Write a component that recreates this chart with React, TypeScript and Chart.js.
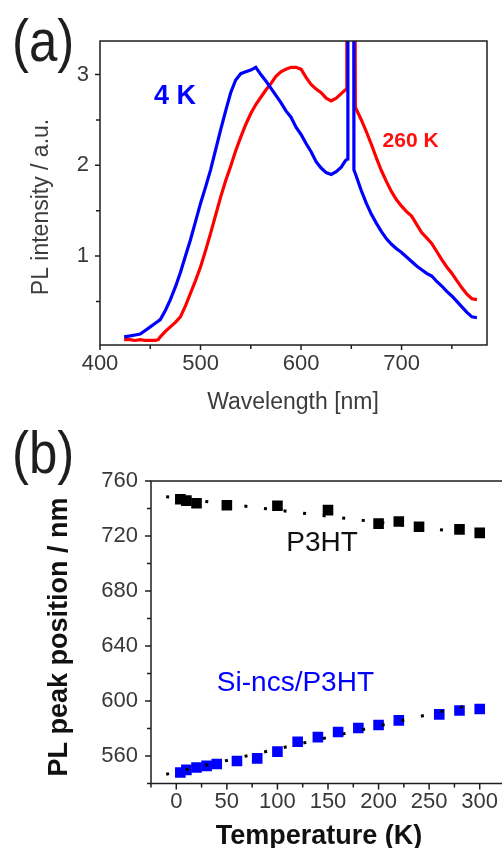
import React, { useEffect, useRef } from "react";
import { Chart, registerables } from "chart.js";

Chart.register(...registerables);

const FONT = "'Liberation Sans', Arial, Helvetica, sans-serif";

// ---------- Panel (a): PL spectra ----------
const wl4K = [424, 430, 435, 440, 445, 450, 455, 460, 465, 470, 475, 480, 485, 490, 495, 500, 505, 510, 515, 520, 525, 530, 535, 540, 545, 550, 555, 560, 565, 570, 575, 580, 585, 590, 595, 600, 605, 610, 615, 620, 625, 630, 635, 640, 644, 646.3, 646.6, 652.3, 652.6, 654, 660, 665, 670, 675, 680, 685, 690, 695, 700, 705, 710, 715, 720, 725, 730, 735, 740, 745, 750, 755, 760, 765, 770, 775];
const pl4K = [0.11, 0.12, 0.13, 0.14, 0.18, 0.22, 0.26, 0.3, 0.4, 0.52, 0.66, 0.82, 1.0, 1.18, 1.38, 1.58, 1.76, 1.95, 2.17, 2.39, 2.6, 2.8, 2.94, 3.01, 3.03, 3.05, 3.08, 3.0, 2.93, 2.85, 2.77, 2.69, 2.6, 2.53, 2.42, 2.34, 2.24, 2.15, 2.04, 1.97, 1.92, 1.9, 1.93, 1.98, 2.05, 2.07, 6.0, 6.0, 1.95, 1.91, 1.72, 1.58, 1.46, 1.36, 1.27, 1.19, 1.13, 1.08, 1.04, 0.99, 0.94, 0.89, 0.85, 0.81, 0.78, 0.72, 0.67, 0.61, 0.56, 0.5, 0.44, 0.38, 0.33, 0.32];

const wl260K = [424, 430, 435, 440, 445, 450, 455, 458, 460, 465, 470, 475, 480, 485, 490, 495, 500, 505, 510, 515, 520, 525, 530, 535, 540, 545, 550, 555, 560, 565, 570, 575, 580, 585, 590, 595, 600, 605, 610, 615, 620, 625, 630, 635, 640, 645, 645.6, 653.2, 654, 660, 665, 670, 675, 680, 685, 690, 695, 700, 705, 710, 715, 720, 725, 730, 735, 740, 745, 750, 755, 760, 765, 770, 775];
const pl260K = [0.08, 0.08, 0.07, 0.08, 0.07, 0.07, 0.07, 0.08, 0.11, 0.17, 0.22, 0.27, 0.33, 0.45, 0.59, 0.73, 0.88, 1.06, 1.25, 1.45, 1.65, 1.83, 1.99, 2.16, 2.31, 2.45, 2.57, 2.67, 2.75, 2.83, 2.9, 2.98, 3.03, 3.06, 3.08, 3.08, 3.06, 2.97, 2.89, 2.84, 2.8, 2.74, 2.71, 2.74, 2.79, 2.84, 6.0, 6.0, 2.64, 2.5, 2.37, 2.23, 2.08, 1.94, 1.82, 1.71, 1.62, 1.55, 1.49, 1.44, 1.35, 1.26, 1.2, 1.14, 1.05, 0.96, 0.88, 0.81, 0.73, 0.65, 0.58, 0.53, 0.52];

const wlTicks = [400, 500, 600, 700];
const wlMinor = [450, 550, 650, 750];
const plTicks = [1, 2, 3];
const plMinor = [0.5, 1.5, 2.5];

// ---------- Panel (b): PL peak position vs temperature ----------
const tempP3HT = [4, 10, 20, 50, 100, 150, 200, 220, 240, 280, 300];
const peakP3HT = [746.7, 745.7, 743.8, 742.4, 742.0, 738.8, 729.0, 730.5, 726.7, 724.8, 722.3];
const tempSi = [4, 10, 20, 30, 40, 60, 80, 100, 120, 140, 160, 180, 200, 220, 260, 280, 300];
const peakSi = [548.0, 549.9, 551.6, 552.8, 554.2, 556.4, 558.3, 563.2, 570.4, 573.7, 577.5, 580.4, 582.5, 585.9, 590.3, 593.1, 594.2];
const fitT = [-10, 300];
const fitP3HT = [748.6, 721.1];
const fitSi = [546.7, 598.7];

const tempTicks = [0, 50, 100, 150, 200, 250, 300];
const tempMinor = [-25, 25, 75, 125, 175, 225, 275, 325];
const peakTicks = [560, 600, 640, 680, 720, 760];
const peakMinor = [540, 580, 620, 660, 700, 740];

type TextItem = {
  text: string;
  x: number;
  y: number;
  font: string;
  color: string;
  rot?: number;
  sx?: number;
  align?: CanvasTextAlign;
  baseline?: CanvasTextBaseline;
  data?: boolean;
};

type FrameCfg = {
  xMajor: number[];
  xMinor: number[];
  yMajor: number[];
  yMinor: number[];
  major: number;
  minor: number;
  texts: TextItem[];
};

function makeFrame(cfg: FrameCfg) {
  return {
    id: "frame",
    afterDraw(chart: any) {
      const { ctx, chartArea: a, scales } = chart;
      const xs = scales.x;
      const ys = scales.y;
      ctx.save();
      ctx.strokeStyle = "#1e1e1e";
      ctx.lineWidth = 1.5;
      ctx.lineCap = "butt";
      ctx.strokeRect(a.left, a.top, a.right - a.left, a.bottom - a.top);
      ctx.beginPath();
      const xt = (vals: number[], len: number) => {
        for (const v of vals) {
          const p = xs.getPixelForValue(v);
          ctx.moveTo(p, a.bottom);
          ctx.lineTo(p, a.bottom + len);
        }
      };
      const yt = (vals: number[], len: number) => {
        for (const v of vals) {
          const p = ys.getPixelForValue(v);
          ctx.moveTo(a.left, p);
          ctx.lineTo(a.left - len, p);
        }
      };
      xt(cfg.xMajor, cfg.major);
      xt(cfg.xMinor, cfg.minor);
      yt(cfg.yMajor, cfg.major);
      yt(cfg.yMinor, cfg.minor);
      ctx.stroke();
      for (const t of cfg.texts) {
        ctx.save();
        let x = t.x;
        let y = t.y;
        if (t.data) {
          x = xs.getPixelForValue(t.x);
          y = ys.getPixelForValue(t.y);
        }
        ctx.translate(x, y);
        if (t.rot) ctx.rotate(t.rot);
        if (t.sx) ctx.scale(t.sx, 1);
        ctx.font = t.font;
        ctx.fillStyle = t.color;
        ctx.textAlign = t.align ?? "center";
        ctx.textBaseline = t.baseline ?? "middle";
        ctx.fillText(t.text, 0, 0);
        ctx.restore();
      }
      ctx.restore();
    },
  };
}

const tickFont = { family: FONT, size: 22 };
const tickColor = "#383838";

function axisCommon(ticksArr: number[], pad: number) {
  return {
    type: "linear" as const,
    afterBuildTicks: (s: any) => {
      s.ticks = ticksArr.map((v) => ({ value: v }));
    },
    ticks: {
      font: tickFont,
      color: tickColor,
      padding: pad,
      maxRotation: 0,
      autoSkip: false,
    },
    grid: { display: false, drawTicks: false },
    border: { display: false },
  };
}

function pairs(xs: number[], ys: number[]) {
  return xs.map((x, i) => ({ x, y: ys[i] }));
}

export default function App() {
  const refA = useRef<HTMLCanvasElement>(null);
  const refB = useRef<HTMLCanvasElement>(null);

  useEffect(() => {
    const chartA = new Chart(refA.current!, {
      type: "line",
      data: {
        datasets: [
          {
            label: "4 K",
            data: pairs(wl4K, pl4K),
            borderColor: "#0000ff",
            borderWidth: 3.2,
            pointRadius: 0,
            tension: 0,
          },
          {
            label: "260 K",
            data: pairs(wl260K, pl260K),
            borderColor: "#ff0000",
            borderWidth: 3.2,
            pointRadius: 0,
            tension: 0,
          },
        ],
      },
      options: {
        responsive: false,
        animation: false,
        events: [],
        layout: { padding: { left: 0, top: 41, right: 15, bottom: 0 } },
        plugins: { legend: { display: false }, tooltip: { enabled: false } },
        scales: {
          x: {
            ...axisCommon(wlTicks, 6),
            min: 400,
            max: 785,
            afterFit: (s: any) => {
              s.height = 75;
            },
          },
          y: {
            ...axisCommon(plTicks, 11),
            min: 0.02,
            max: 3.37,
            afterFit: (s: any) => {
              s.width = 100;
            },
          },
        },
      } as any,
      plugins: [
        makeFrame({
          xMajor: wlTicks,
          xMinor: wlMinor,
          yMajor: plTicks,
          yMinor: plMinor,
          major: 5,
          minor: 4,
          texts: [
            { text: "(a)", x: 12, y: 61, font: `60px ${FONT}`, color: "#1e1e1e", sx: 0.85, align: "left", baseline: "alphabetic" },
            { text: "PL intensity / a.u.", x: 42, y: 207, font: `23px ${FONT}`, color: "#3c3c3c", rot: -Math.PI / 2 },
            { text: "Wavelength [nm]", x: 293, y: 403, font: `23px ${FONT}`, color: "#3c3c3c" },
            { text: "4 K", x: 474.5, y: 2.76, font: `bold 27px ${FONT}`, color: "#0000ff", data: true },
            { text: "260 K", x: 709, y: 2.27, font: `bold 21px ${FONT}`, color: "#ff1010", data: true },
          ],
        }),
      ],
    });

    const chartB = new Chart(refB.current!, {
      type: "scatter",
      data: {
        datasets: [
          {
            label: "P3HT fit",
            data: pairs(fitT, fitP3HT),
            showLine: true,
            borderColor: "#000000",
            borderWidth: 3,
            borderDash: [3, 16.7],
            pointRadius: 0,
          },
          {
            label: "Si-ncs/P3HT fit",
            data: pairs(fitT, fitSi),
            showLine: true,
            borderColor: "#000000",
            borderWidth: 3,
            borderDash: [3, 17.1],
            pointRadius: 0,
          },
          {
            label: "P3HT",
            data: pairs(tempP3HT, peakP3HT),
            pointStyle: "rect",
            pointRadius: 7.5,
            backgroundColor: "#000000",
            borderWidth: 0,
          },
          {
            label: "Si-ncs/P3HT",
            data: pairs(tempSi, peakSi),
            pointStyle: "rect",
            pointRadius: 7.5,
            backgroundColor: "#0000ff",
            borderWidth: 0,
          },
        ],
      },
      options: {
        responsive: false,
        animation: false,
        events: [],
        layout: { padding: { left: 0, top: 61, right: 15, bottom: 0 } },
        plugins: { legend: { display: false }, tooltip: { enabled: false } },
        scales: {
          x: {
            ...axisCommon(tempTicks, 5),
            min: -25,
            max: 325,
            afterFit: (s: any) => {
              s.height = 64.5;
            },
          },
          y: {
            ...axisCommon(peakTicks, 13),
            min: 540,
            max: 760,
            afterFit: (s: any) => {
              s.width = 151;
            },
          },
        },
      } as any,
      plugins: [
        makeFrame({
          xMajor: tempTicks,
          xMinor: tempMinor,
          yMajor: peakTicks,
          yMinor: peakMinor,
          major: 6,
          minor: 4,
          texts: [
            { text: "(b)", x: 12, y: 53, font: `60px ${FONT}`, color: "#1e1e1e", sx: 0.85, align: "left", baseline: "alphabetic" },
            { text: "PL peak position / nm", x: 60, y: 217, font: `bold 27px ${FONT}`, color: "#111111", rot: -Math.PI / 2 },
            { text: "Temperature (K)", x: 319, y: 417, font: `bold 27px ${FONT}`, color: "#111111" },
            { text: "P3HT", x: 144.2, y: 714.8, font: `28px ${FONT}`, color: "#111111", data: true },
            { text: "Si-ncs/P3HT", x: 117.8, y: 612.7, font: `28px ${FONT}`, color: "#0000ff", data: true },
          ],
        }),
      ],
    });

    return () => {
      chartA.destroy();
      chartB.destroy();
    };
  }, []);

  return (
    <div
      style={{
        position: "absolute",
        left: 0,
        top: 0,
        width: 502,
        height: 848,
        overflow: "hidden",
        background: "#ffffff",
      }}
    >
      <canvas
        ref={refA}
        width={502}
        height={420}
        style={{ position: "absolute", left: 0, top: 0, width: 502, height: 420 }}
      />
      <canvas
        ref={refB}
        width={520}
        height={428}
        style={{ position: "absolute", left: 0, top: 420, width: 520, height: 428 }}
      />
    </div>
  );
}
